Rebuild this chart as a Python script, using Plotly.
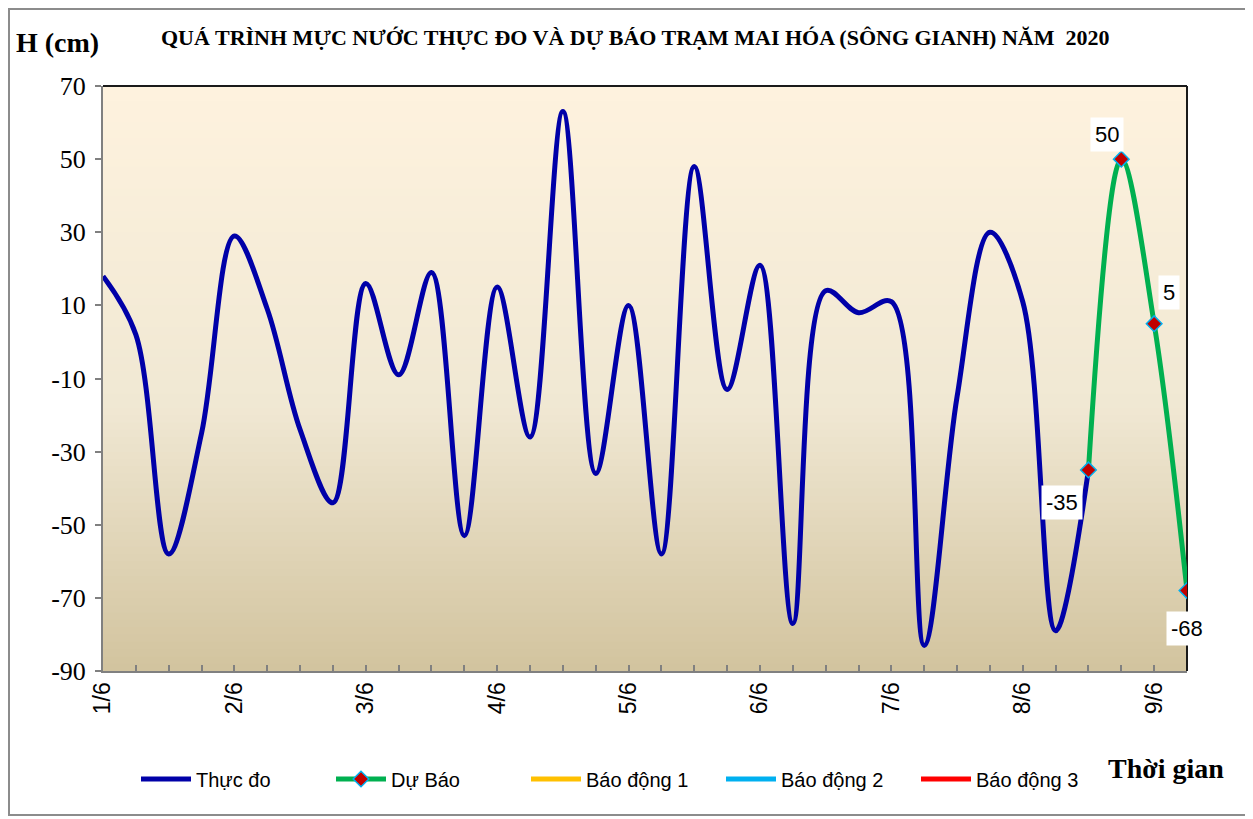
import plotly.graph_objects as go
import pandas as pd

# ---- data ----
times = pd.date_range("2020-06-01 00:00", periods=34, freq="6h")
day_labels = ["1/6", "2/6", "3/6", "4/6", "5/6", "6/6", "7/6", "8/6", "9/6"]
y_ticks = [70, 50, 30, 10, -10, -30, -50, -70, -90]

observed = [18, 2, -58, -25, 29, 9, -24, -44, 16, -9, 19, -53, 15, -26, 63, -36,
            10, -58, 48, -13, 21, -77, 14, 8, 11, -83, -15, 30, 11, -79, -35]
forecast = [-35, 50, 5, -68]
alarm_levels = {"Báo động 1": 300, "Báo động 2": 450, "Báo động 3": 600}
alarm_colors = {"Báo động 1": "#FFC000", "Báo động 2": "#00B0F0", "Báo động 3": "#FF0000"}
label_offsets = [(-26, -33), (-14, 25), (15, 31), (0, -38)]

obs_x = list(times[:len(observed)])
fc_x = list(times[len(observed) - 1:len(observed) - 1 + len(forecast)])

# page body has an 8px margin: work in figure pixel coords (viewport - 8)
W, H = 1245, 811
PL, PR, PT, PB = 95, 1179, 78, 663
pw, ph = PR - PL, PB - PT


def px(xv):
    return (xv - 8 - PL) / pw


def py(yv):
    return (PB - (yv - 8)) / ph


fig = go.Figure()
fig.add_trace(go.Scatter(x=obs_x, y=observed, name="Thực đo", mode="lines",
                         line=dict(color="#0000A8", width=5, shape="spline", smoothing=1.0)))
fig.add_trace(go.Scatter(x=fc_x, y=forecast, name="Dự Báo", mode="lines+markers",
                         line=dict(color="#00B050", width=5, shape="spline", smoothing=1.0),
                         marker=dict(symbol="diamond", size=12, color="#C00000",
                                     line=dict(color="#00B0F0", width=1.5))))
for name, lvl in alarm_levels.items():
    fig.add_trace(go.Scatter(x=[times[0], times[-1]], y=[lvl, lvl], name=name, mode="lines",
                             line=dict(color=alarm_colors[name], width=5)))

# data labels
for (xv, yv), (dx, dy) in zip(zip(fc_x, forecast), label_offsets):
    fig.add_annotation(x=xv, y=yv, text=str(yv), showarrow=False, xshift=dx, yshift=dy,
                       xanchor="center", yanchor="middle",
                       bgcolor="white", borderpad=4,
                       font=dict(family="Arial, Liberation Sans", size=22, color="black"))

# gradient background of plot area
n = 80
top = (254, 242, 222)
mid = (240, 232, 211)
bot = (210, 195, 158)
for i in range(n):
    t = (i + 0.5) / n
    if t < 0.55:
        f = t / 0.55
        c = [round(top[j] + (mid[j] - top[j]) * f) for j in range(3)]
    else:
        f = (t - 0.55) / 0.45
        c = [round(mid[j] + (bot[j] - mid[j]) * f) for j in range(3)]
    y1 = 1 - i / n
    y0 = 1 - (i + 1) / n - 0.002
    fig.add_shape(type="rect", xref="x domain", yref="y domain", x0=0, x1=1,
                  y0=max(y0, 0), y1=y1, fillcolor=f"rgb({c[0]},{c[1]},{c[2]})",
                  line=dict(width=0), layer="below")

# plot area top/right border
fig.add_shape(type="line", xref="x domain", yref="y domain", x0=0, x1=1, y0=1, y1=1,
              line=dict(color="#1a1a1a", width=2), layer="below")
fig.add_shape(type="line", xref="x domain", yref="y domain", x0=1, x1=1, y0=0, y1=1,
              line=dict(color="#1a1a1a", width=2), layer="below")
# outer chart border
fig.add_shape(type="rect", xref="paper", yref="paper",
              x0=px(9), x1=px(1247), y0=py(815), y1=py(9),
              line=dict(color="#8c8c8c", width=2), fillcolor="rgba(0,0,0,0)", layer="below")

serif = "Times New Roman, Liberation Serif, serif"
fig.add_annotation(xref="paper", yref="paper", x=px(635), y=py(37),
                   xanchor="center", yanchor="middle",
                   text="<b>QUÁ TRÌNH MỰC NƯỚC THỰC ĐO VÀ DỰ BÁO TRẠM MAI HÓA (SÔNG GIANH) NĂM  2020</b>",
                   showarrow=False, font=dict(family=serif, size=22, color="black"))
fig.add_annotation(xref="paper", yref="paper", x=px(57), y=py(42),
                   xanchor="center", yanchor="middle",
                   text="<b>H (cm)</b>", showarrow=False,
                   font=dict(family=serif, size=28, color="black"))
fig.add_annotation(xref="paper", yref="paper", x=px(1166), y=py(768),
                   xanchor="center", yanchor="middle",
                   text="<b>Thời gian</b>", showarrow=False,
                   font=dict(family=serif, size=28, color="black"))

fig.update_layout(
    width=W, height=H,
    margin=dict(l=PL, r=W - PR, t=PT, b=H - PB),
    paper_bgcolor="white", plot_bgcolor="rgba(0,0,0,0)",
    showlegend=True,
    legend=dict(orientation="h", x=px(136), xanchor="left",
                y=py(779), yanchor="middle",
                font=dict(family="Arial, Liberation Sans", size=20, color="black"),
                itemwidth=50, entrywidth=130, bgcolor="rgba(0,0,0,0)"),
)
fig.update_xaxes(type="date", range=[times[0], times[-1]],
                 tickvals=list(times[::4]), ticktext=day_labels, tickangle=-90,
                 tickfont=dict(family="Arial, Liberation Sans", size=23, color="black"),
                 showline=True, linecolor="#808080", linewidth=2,
                 ticks="inside", ticklen=6, tickcolor="#808080", tickwidth=1.5,
                 minor=dict(tickvals=list(times), ticks="inside", ticklen=6,
                            tickcolor="#808080", tickwidth=1.5),
                 showgrid=False, zeroline=False, automargin=False)
fig.update_yaxes(range=[-90, 70], tickvals=y_ticks, ticktext=[str(v) for v in y_ticks],
                 tickfont=dict(family=serif, size=26, color="black"),
                 showline=True, linecolor="#808080", linewidth=2,
                 ticks="outside", ticklen=6, tickcolor="#808080", tickwidth=1.5,
                 ticklabelstandoff=4,
                 showgrid=False, zeroline=False, automargin=False)

fig.write_html("out.html")
